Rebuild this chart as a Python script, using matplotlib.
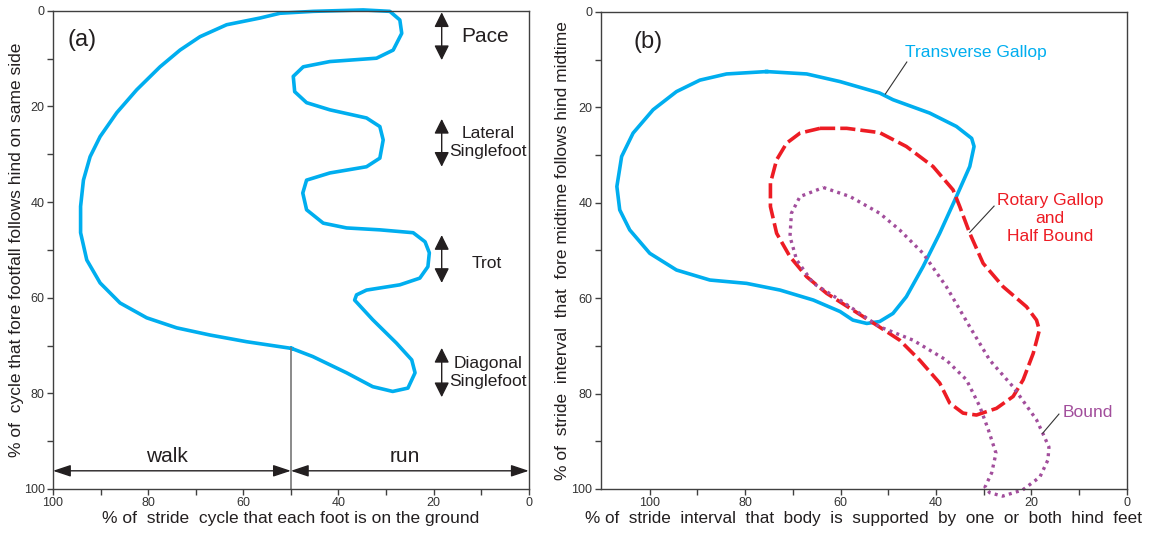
import matplotlib
matplotlib.use('Agg')
import matplotlib.pyplot as plt

plt.rcParams['font.family'] = ['Liberation Sans', 'DejaVu Sans']

# (a) gait region outline (x = % on ground, y = % lag)
gait_x = [49.85, 59.3, 67.0, 74.0, 80.3, 85.9, 90.1, 92.9, 94.2, 94.2, 93.6, 92.2,
          90.1, 86.6, 82.4, 77.5, 73.3, 69.1, 63.5, 56.5, 52.3, 45.3, 34.8, 29.2,
          27.1, 26.7, 28.5, 32.0, 41.8, 47.4, 49.5, 49.2, 46.7, 41.8, 34.1, 31.3,
          30.6, 31.3, 34.1, 41.8, 46.7, 47.5, 46.7, 43.2, 38.3, 31.3, 24.3, 21.8,
          20.9, 21.2, 22.9, 27.1, 34.1, 36.2, 36.6, 32.8, 27.8, 24.6, 23.9, 25.4,
          28.6, 32.8, 38.3, 45.4, 49.85]
gait_y = [70.6, 69.2, 67.8, 66.3, 64.2, 61.1, 56.9, 52.1, 46.4, 40.9, 35.4, 30.5,
          26.3, 21.3, 16.5, 11.7, 8.2, 5.4, 2.9, 1.5, 0.5, 0.1, -0.2, 0.1,
          1.9, 4.7, 8.2, 9.9, 10.6, 11.7, 13.7, 16.9, 19.2, 20.7, 22.4, 24.2,
          27.0, 30.8, 32.6, 33.9, 35.4, 38.1, 41.6, 44.4, 45.4, 45.8, 46.4, 48.3,
          50.6, 53.5, 55.9, 57.3, 58.4, 59.4, 60.5, 64.6, 69.5, 73.0, 75.7, 78.9,
          79.6, 78.6, 75.7, 72.3, 70.6]

gait_names = ['Pace', 'Lateral\nSinglefoot', 'Trot', 'Diagonal\nSinglefoot']
gait_arrow_top = [0.3, 22.6, 46.9, 70.5]
gait_arrow_bot = [10.3, 32.6, 56.9, 80.8]

# (b) transverse gallop, rotary gallop / half bound, bound
trans_x = [75.5, 67.1, 60.1, 51.8, 49.0, 41.3, 35.7, 32.5, 32.0, 32.9, 35.7, 39.2,
           42.7, 46.2, 49.0, 51.8, 54.5, 57.4, 60.1, 65.7, 72.7, 79.7, 87.4, 94.4,
           100.0, 104.2, 106.3, 106.9, 105.9, 103.5, 99.3, 94.4, 89.5, 83.9, 75.5]
trans_y = [12.5, 13.0, 14.6, 17.0, 18.4, 21.2, 24.0, 26.5, 28.2, 32.4, 38.7, 46.4,
           53.4, 59.7, 63.2, 64.9, 65.3, 64.6, 62.8, 60.4, 58.3, 56.9, 56.2, 54.1,
           50.6, 45.7, 41.5, 36.6, 30.3, 25.4, 20.5, 16.7, 14.3, 13.0, 12.5]

rotary_x = [64.3, 58.7, 51.8, 46.2, 40.6, 36.4, 35.0, 32.9, 30.1, 25.9, 21.0, 18.9,
            18.3, 19.6, 21.7, 23.8, 27.3, 31.5, 34.3, 37.1, 39.2, 43.4, 47.6, 52.2,
            57.4, 62.9, 67.1, 70.6, 73.4, 74.7, 74.7, 73.4, 71.3, 68.5, 64.3]
rotary_y = [24.4, 24.4, 25.3, 28.2, 32.4, 37.3, 40.8, 46.4, 52.7, 57.6, 61.8, 64.6,
            66.7, 71.6, 77.1, 80.6, 83.1, 84.5, 84.1, 82.0, 77.8, 73.0, 68.8, 65.8,
            62.5, 59.0, 55.5, 51.3, 46.4, 40.8, 35.9, 31.0, 27.5, 25.4, 24.4]

bound_x = [63.6, 58.0, 51.8, 47.6, 42.7, 37.8, 32.9, 28.7, 23.8, 18.9, 17.6, 16.3,
           16.5, 18.2, 21.8, 26.0, 28.7, 29.7, 28.3, 27.4, 29.0, 30.8, 33.6, 37.8,
           44.8, 51.8, 60.1, 65.7, 69.2, 70.6, 70.3, 68.5, 63.6]
bound_y = [36.8, 38.7, 42.2, 45.7, 50.6, 57.6, 66.0, 73.0, 78.6, 85.5, 88.3, 91.2,
           93.9, 97.5, 100.2, 101.5, 100.8, 99.6, 96.6, 92.5, 87.6, 82.7, 77.1, 73.0,
           68.8, 66.0, 60.4, 56.9, 52.0, 47.1, 42.2, 38.7, 36.8]

major = [0, 20, 40, 60, 80, 100]
minor = [10, 30, 50, 70, 90]

CYAN = '#00AEEF'
RED = '#ED1C24'
PURPLE = '#A24E9C'
INK = '#231F20'


def style_axes(ax):
    ax.set_xticks(major)
    ax.set_yticks(major)
    ax.set_xticks(minor, minor=True)
    ax.set_yticks(minor, minor=True)
    ax.tick_params(which='both', direction='out', length=4, width=1,
                   color='#404040', labelsize=9, labelcolor='#333333', pad=2)
    for s in ax.spines.values():
        s.set_color('#404040')
        s.set_linewidth(1.0)


fig = plt.figure(figsize=(11.52, 5.33), dpi=100)

# ---- panel (a)
ax1 = fig.add_axes([0.046, 0.0826, 0.413, 0.897])
ax1.set_xlim(100, 0)
ax1.set_ylim(100, 0)
style_axes(ax1)
ax1.plot(gait_x, gait_y, color=CYAN, lw=2.6, solid_joinstyle='round', clip_on=False)
ax1.plot([50, 50], [70.6, 100], color='#777777', lw=1.2)

for name, t, b in zip(gait_names, gait_arrow_top, gait_arrow_bot):
    ax1.annotate('', xy=(18.3, t), xytext=(18.3, b),
                 arrowprops=dict(arrowstyle='<|-|>,head_length=0.9,head_width=0.45',
                                 mutation_scale=10, color=INK, lw=1,
                                 shrinkA=0, shrinkB=0))
ax1.text(14.1, 5.4, 'Pace', fontsize=15, color=INK, ha='left', va='center')
ax1.text(8.6, 27.6, 'Lateral\nSinglefoot', fontsize=12.5, color=INK,
         ha='center', va='center', linespacing=1.25)
ax1.text(8.8, 52.8, 'Trot', fontsize=12.5, color=INK, ha='center', va='center')
ax1.text(8.6, 75.7, 'Diagonal\nSinglefoot', fontsize=12.5, color=INK,
         ha='center', va='center', linespacing=1.25)

for x0, x1 in [(100, 50), (50, 0)]:
    ax1.annotate('', xy=(x0, 96.2), xytext=(x1, 96.2),
                 arrowprops=dict(arrowstyle='<|-|>,head_length=0.9,head_width=0.3',
                                 mutation_scale=12, color=INK, lw=1,
                                 shrinkA=0, shrinkB=0))
ax1.text(76, 93.3, 'walk', fontsize=15, color=INK, ha='center', va='center')
ax1.text(26, 93.3, 'run', fontsize=15, color=INK, ha='center', va='center')
ax1.text(93.9, 6.1, '(a)', fontsize=17, color=INK, ha='center', va='center')

ax1.set_xlabel('% of  stride  cycle that each foot is on the ground',
               fontsize=12.5, color=INK, labelpad=1)
ax1.set_ylabel('% of  cycle that fore footfall follows hind on same side',
               fontsize=12.5, color=INK, labelpad=0)

# ---- panel (b)
ax2 = fig.add_axes([0.5214, 0.0826, 0.4566, 0.895])
ax2.set_xlim(110.3, 0)
ax2.set_ylim(100, 0)
style_axes(ax2)
ax2.plot(trans_x, trans_y, color=CYAN, lw=2.6, solid_joinstyle='round')
ax2.plot(rotary_x, rotary_y, color=RED, lw=2.6, linestyle=(0, (4.2, 1.4)))
ax2.plot(bound_x, bound_y, color=PURPLE, lw=2.4, linestyle=(0, (0.9, 1.3)),
         clip_on=False)

ax2.text(100.4, 6.3, '(b)', fontsize=17, color=INK, ha='center', va='center')
ax2.text(46.5, 8.6, 'Transverse Gallop', fontsize=12.5, color=CYAN,
         ha='left', va='center')
ax2.plot([46.1, 50.6], [10.5, 17.2], color='#333333', lw=0.8)
ax2.text(16.1, 43.2, 'Rotary Gallop\nand\nHalf Bound', fontsize=12.5, color=RED,
         ha='center', va='center', linespacing=1.25)
ax2.plot([27.8, 32.9], [40.7, 46.2], color='#333333', lw=0.8)
ax2.text(13.4, 83.9, 'Bound', fontsize=12.5, color=PURPLE, ha='left', va='center')
ax2.plot([14.2, 17.6], [84.3, 88.3], color='#333333', lw=0.8)

ax2.set_xlabel('% of  stride  interval  that  body  is  supported  by  one  or  both  hind  feet',
               fontsize=12.3, color=INK, labelpad=1)
ax2.set_ylabel('% of  stride  interval  that  fore midtime follows hind midtime',
               fontsize=12.5, color=INK, labelpad=1)

fig.savefig('out.png', dpi=100)
